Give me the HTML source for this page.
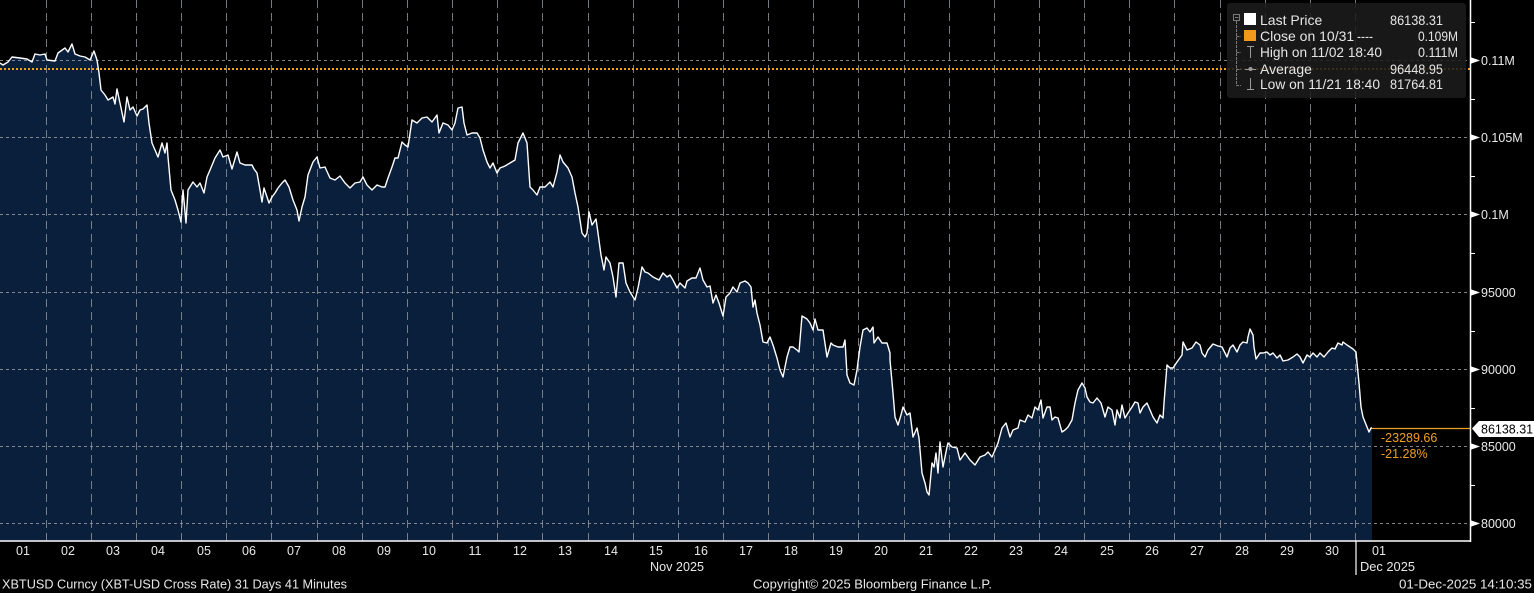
<!DOCTYPE html>
<html><head><meta charset="utf-8">
<style>
html,body{margin:0;padding:0;background:#000;}
svg{display:block;}
text{font-family:"Liberation Sans",Arial,sans-serif;}
</style></head>
<body>
<svg width="1534" height="593" viewBox="0 0 1534 593" xmlns="http://www.w3.org/2000/svg">
<rect x="0" y="0" width="1534" height="593" fill="#000"/>
<!-- area fill -->
<path fill="#0a1f3c" d="M0,541 L0,63 3,65 8,62 12,57 20,58 27,59 32,62 35,54 40,55 45,54 47,60 55,61 58,53 65,48 68,52 72,44 75,54 80,56 85,57 90,60 94,51 97,60 99,73 101,90 105,95 108,100 113,97 115,104 117,89 120,103 124,122 127,97 130,110 133,107 137,116 140,110 143,109 147,105 149,123 152,143 155,150 158,157 162,143 165,153 167,143 168,157 171,190 175,200 178,210 181,222 183,190 186,223 188,190 193,182 197,187 200,183 204,193 207,177 210,170 215,158 220,150 223,157 228,155 232,169 237,152 240,163 245,165 247,165 252,165 254,169 257,173 260,190 262,202 264,188 267,197 269,203 272,197 275,193 278,188 282,183 285,180 289,187 293,200 297,210 299,221 302,207 305,197 308,175 313,162 317,157 320,168 325,167 330,178 335,180 340,176 345,183 350,188 355,183 360,182 363,177 367,185 372,190 377,185 382,187 385,187 388,178 392,167 395,158 398,158 402,142 405,145 408,147 412,120 417,123 422,118 427,117 432,122 437,115 439,133 443,123 448,125 452,130 455,123 458,108 462,107 464,123 467,135 472,133 477,133 480,138 483,150 487,162 490,168 493,163 497,173 500,168 505,166 510,163 515,160 518,143 523,133 527,143 530,187 533,190 537,195 540,187 545,187 550,182 553,187 557,172 560,155 563,162 568,168 572,177 575,193 578,207 582,233 585,237 587,233 589,212 592,225 596,219 598,233 601,255 604,270 606,257 610,263 613,277 616,297 619,263 623,263 626,283 630,292 635,300 638,288 642,267 645,272 648,273 653,277 659,280 663,273 667,277 670,275 673,280 677,288 680,283 685,288 687,281 692,278 696,278 700,268 703,280 707,287 710,286 713,303 716,295 719,303 723,316 726,297 730,293 733,287 737,292 740,283 745,281 748,283 751,287 753,307 755,300 757,313 760,325 763,342 767,343 770,337 773,345 777,358 780,370 783,377 787,357 790,347 793,347 797,350 799,352 802,316 807,319 810,323 813,330 815,319 818,330 823,330 827,357 831,343 833,345 838,347 843,347 845,340 847,375 850,383 854,385 857,370 860,347 863,330 867,328 870,332 873,327 874,343 878,337 882,343 887,343 890,353 890,360 893,393 895,417 898,425 901,415 903,407 907,415 910,413 913,437 917,428 919,438 922,473 925,483 927,492 929,495 932,463 934,467 936,453 938,473 940,442 943,467 947,447 948,443 952,447 957,448 960,460 965,453 970,460 975,465 980,457 985,455 988,452 992,457 995,450 998,443 1002,428 1006,423 1010,437 1013,430 1018,428 1020,420 1025,422 1028,415 1032,418 1035,407 1038,410 1041,400 1043,418 1047,407 1050,407 1052,420 1055,417 1058,418 1062,432 1065,430 1068,427 1072,420 1075,403 1078,390 1082,383 1085,388 1087,397 1090,402 1093,403 1097,398 1101,403 1105,417 1108,407 1112,410 1115,425 1117,410 1120,418 1122,405 1125,418 1128,413 1132,407 1135,402 1138,403 1140,413 1143,407 1147,403 1150,410 1153,417 1157,423 1160,415 1163,418 1164,403 1167,365 1170,368 1173,368 1177,362 1182,355 1183,342 1187,350 1192,348 1196,342 1200,345 1202,353 1205,357 1208,350 1213,344 1218,346 1222,347 1227,357 1230,348 1233,345 1237,352 1240,345 1243,342 1247,343 1248,337 1250,329 1253,335 1254,347 1256,359 1260,353 1263,353 1267,352 1270,355 1273,353 1277,358 1280,355 1283,361 1288,360 1293,357 1297,354 1300,357 1303,363 1307,355 1310,357 1313,353 1317,357 1320,353 1324,357 1328,352 1332,348 1335,349 1338,343 1342,345 1343,342 1347,345 1350,347 1353,349 1356,352 1357,363 1359,383 1361,407 1363,417 1367,427 1369,432 1371,428 1372,428 L1372,541 Z"/>

<!-- vertical dashed gridlines -->
<path stroke="#8a8f98" stroke-width="1" stroke-dasharray="8,5" fill="none" opacity="0.85" d="M46.5,0V541 M91.5,0V541 M136.5,0V541 M181.5,0V541 M226.5,0V541 M271.5,0V541 M317.5,0V541 M362.5,0V541 M407.5,0V541 M452.5,0V541 M497.5,0V541 M542.5,0V541 M588.5,0V541 M633.5,0V541 M678.5,0V541 M723.5,0V541 M768.5,0V541 M813.5,0V541 M858.5,0V541 M904.5,0V541 M949.5,0V541 M994.5,0V541 M1039.5,0V541 M1084.5,0V541 M1129.5,0V541 M1174.5,0V541 M1220.5,0V541 M1265.5,0V541 M1310.5,0V541 M1355.5,0V541"/>

<!-- horizontal dotted gridlines -->
<path stroke="#9a9a9a" stroke-width="1" stroke-dasharray="3,3" fill="none" opacity="0.85" d="M0,60.5H1470 M0,137.5H1470 M0,214.5H1470 M0,292.5H1470 M0,369.5H1470 M0,446.5H1470 M0,523.5H1470"/>

<!-- close line (orange dotted) -->
<line x1="0" y1="69" x2="1470" y2="69" stroke="#f0a023" stroke-width="2" stroke-dasharray="2,2"/>

<!-- price line -->
<polyline fill="none" stroke="#ffffff" stroke-width="1.4" stroke-linejoin="round" points="0,63 3,65 8,62 12,57 20,58 27,59 32,62 35,54 40,55 45,54 47,60 55,61 58,53 65,48 68,52 72,44 75,54 80,56 85,57 90,60 94,51 97,60 99,73 101,90 105,95 108,100 113,97 115,104 117,89 120,103 124,122 127,97 130,110 133,107 137,116 140,110 143,109 147,105 149,123 152,143 155,150 158,157 162,143 165,153 167,143 168,157 171,190 175,200 178,210 181,222 183,190 186,223 188,190 193,182 197,187 200,183 204,193 207,177 210,170 215,158 220,150 223,157 228,155 232,169 237,152 240,163 245,165 247,165 252,165 254,169 257,173 260,190 262,202 264,188 267,197 269,203 272,197 275,193 278,188 282,183 285,180 289,187 293,200 297,210 299,221 302,207 305,197 308,175 313,162 317,157 320,168 325,167 330,178 335,180 340,176 345,183 350,188 355,183 360,182 363,177 367,185 372,190 377,185 382,187 385,187 388,178 392,167 395,158 398,158 402,142 405,145 408,147 412,120 417,123 422,118 427,117 432,122 437,115 439,133 443,123 448,125 452,130 455,123 458,108 462,107 464,123 467,135 472,133 477,133 480,138 483,150 487,162 490,168 493,163 497,173 500,168 505,166 510,163 515,160 518,143 523,133 527,143 530,187 533,190 537,195 540,187 545,187 550,182 553,187 557,172 560,155 563,162 568,168 572,177 575,193 578,207 582,233 585,237 587,233 589,212 592,225 596,219 598,233 601,255 604,270 606,257 610,263 613,277 616,297 619,263 623,263 626,283 630,292 635,300 638,288 642,267 645,272 648,273 653,277 659,280 663,273 667,277 670,275 673,280 677,288 680,283 685,288 687,281 692,278 696,278 700,268 703,280 707,287 710,286 713,303 716,295 719,303 723,316 726,297 730,293 733,287 737,292 740,283 745,281 748,283 751,287 753,307 755,300 757,313 760,325 763,342 767,343 770,337 773,345 777,358 780,370 783,377 787,357 790,347 793,347 797,350 799,352 802,316 807,319 810,323 813,330 815,319 818,330 823,330 827,357 831,343 833,345 838,347 843,347 845,340 847,375 850,383 854,385 857,370 860,347 863,330 867,328 870,332 873,327 874,343 878,337 882,343 887,343 890,353 890,360 893,393 895,417 898,425 901,415 903,407 907,415 910,413 913,437 917,428 919,438 922,473 925,483 927,492 929,495 932,463 934,467 936,453 938,473 940,442 943,467 947,447 948,443 952,447 957,448 960,460 965,453 970,460 975,465 980,457 985,455 988,452 992,457 995,450 998,443 1002,428 1006,423 1010,437 1013,430 1018,428 1020,420 1025,422 1028,415 1032,418 1035,407 1038,410 1041,400 1043,418 1047,407 1050,407 1052,420 1055,417 1058,418 1062,432 1065,430 1068,427 1072,420 1075,403 1078,390 1082,383 1085,388 1087,397 1090,402 1093,403 1097,398 1101,403 1105,417 1108,407 1112,410 1115,425 1117,410 1120,418 1122,405 1125,418 1128,413 1132,407 1135,402 1138,403 1140,413 1143,407 1147,403 1150,410 1153,417 1157,423 1160,415 1163,418 1164,403 1167,365 1170,368 1173,368 1177,362 1182,355 1183,342 1187,350 1192,348 1196,342 1200,345 1202,353 1205,357 1208,350 1213,344 1218,346 1222,347 1227,357 1230,348 1233,345 1237,352 1240,345 1243,342 1247,343 1248,337 1250,329 1253,335 1254,347 1256,359 1260,353 1263,353 1267,352 1270,355 1273,353 1277,358 1280,355 1283,361 1288,360 1293,357 1297,354 1300,357 1303,363 1307,355 1310,357 1313,353 1317,357 1320,353 1324,357 1328,352 1332,348 1335,349 1338,343 1342,345 1343,342 1347,345 1350,347 1353,349 1356,352 1357,363 1359,383 1361,407 1363,417 1367,427 1369,432 1371,428 1372,428"/>

<!-- last price orange line -->
<line x1="1372" y1="428.5" x2="1470" y2="428.5" stroke="#f0a023" stroke-width="1.2"/>

<!-- axes -->
<line x1="1470.5" y1="0" x2="1470.5" y2="542" stroke="#ffffff" stroke-width="1.5"/>
<line x1="0" y1="541" x2="1471" y2="541" stroke="#ffffff" stroke-width="1.5"/>
<line x1="1356" y1="541" x2="1356" y2="575" stroke="#ffffff" stroke-width="1.2"/>

<!-- minor ticks -->
<path stroke="#ffffff" stroke-width="1" d="M1470,22.5H1475 M1470,99.5H1475 M1470,176.5H1475 M1470,253.5H1475 M1470,331.5H1475 M1470,408.5H1475 M1470,485.5H1475"/>

<!-- y-axis arrows -->
<g fill="#ffffff">
<polygon points="1470,57 1480,60.5 1470,64"/>
<polygon points="1470,134 1480,137.5 1470,141"/>
<polygon points="1470,211 1480,214.5 1470,218"/>
<polygon points="1470,289 1480,292.5 1470,296"/>
<polygon points="1470,366 1480,369.5 1470,373"/>
<polygon points="1470,443 1480,446.5 1470,450"/>
<polygon points="1470,520 1480,523.5 1470,527"/>
</g>
<g fill="#e8e8e8" font-size="12.5">
<text x="1481" y="65">0.11M</text>
<text x="1481" y="142">0.105M</text>
<text x="1481" y="219">0.1M</text>
<text x="1481" y="297">95000</text>
<text x="1481" y="374">90000</text>
<text x="1481" y="451">85000</text>
<text x="1481" y="528">80000</text>
</g>

<!-- last price tag -->
<polygon points="1472,428.5 1479,421 1534,421 1534,437 1479,437" fill="#ffffff"/>
<text x="1481" y="433.5" font-size="12.5" fill="#000">86138.31</text>
<g fill="#f0a023" font-size="12.5">
<text x="1381" y="442">-23289.66</text>
<text x="1381" y="458">-21.28%</text>
</g>

<!-- x-axis labels -->
<g fill="#e8e8e8" font-size="12.5" text-anchor="middle">
<text x="23" y="555">01</text><text x="68" y="555">02</text><text x="113" y="555">03</text><text x="158" y="555">04</text><text x="204" y="555">05</text><text x="249" y="555">06</text><text x="294" y="555">07</text><text x="339" y="555">08</text><text x="384" y="555">09</text><text x="429" y="555">10</text><text x="475" y="555">11</text><text x="520" y="555">12</text><text x="565" y="555">13</text><text x="611" y="555">14</text><text x="656" y="555">15</text><text x="701" y="555">16</text><text x="746" y="555">17</text><text x="791" y="555">18</text><text x="836" y="555">19</text><text x="881" y="555">20</text><text x="926" y="555">21</text><text x="971" y="555">22</text><text x="1016" y="555">23</text><text x="1061" y="555">24</text><text x="1107" y="555">25</text><text x="1152" y="555">26</text><text x="1197" y="555">27</text><text x="1242" y="555">28</text><text x="1287" y="555">29</text><text x="1332" y="555">30</text><text x="1379" y="555">01</text>
</g>
<g fill="#e8e8e8" font-size="12.5">
<text x="650" y="571" textLength="54" lengthAdjust="spacingAndGlyphs">Nov 2025</text>
<text x="1360" y="571" textLength="55" lengthAdjust="spacingAndGlyphs">Dec 2025</text>
<text x="2" y="588.5" textLength="345" lengthAdjust="spacingAndGlyphs">XBTUSD Curncy (XBT-USD Cross Rate) 31 Days 41 Minutes</text>
<text x="753" y="588.5" textLength="239" lengthAdjust="spacingAndGlyphs">Copyright© 2025 Bloomberg Finance L.P.</text>
<text x="1399" y="588.5" textLength="133" lengthAdjust="spacingAndGlyphs">01-Dec-2025 14:10:35</text>
</g>

<!-- legend -->
<rect x="1227" y="3" width="239" height="95" rx="3" fill="#1b1b1b" fill-opacity="0.88"/>
<g stroke="#7a7a7a" stroke-width="1" fill="none">
<rect x="1233.5" y="14.5" width="6" height="6"/>
<line x1="1235" y1="17.5" x2="1238.5" y2="17.5"/>
<path d="M1236.5,21V85.5H1241 M1236.5,36.5H1241 M1236.5,52.5H1241 M1236.5,69.5H1241" stroke-dasharray="3,1"/>
<path d="M1247,46.5H1254 M1250.5,46.5V58" stroke="#9a9a9a"/>
<path d="M1245,69.5H1256" stroke="#9a9a9a"/>
<path d="M1250.5,78V89.5 M1247,89.5H1254" stroke="#9a9a9a"/>
</g>
<circle cx="1250.5" cy="69" r="2" fill="#9a9a9a"/>
<rect x="1244" y="13" width="12" height="12" fill="#ffffff"/>
<rect x="1244" y="30" width="12" height="11" fill="#f39a1c"/>
<g fill="#e6e6e6" font-size="14">
<text x="1260" y="25">Last Price</text>
<text x="1260" y="41">Close on 10/31</text>
<text x="1357" y="41" textLength="16" lengthAdjust="spacingAndGlyphs">----</text>
<text x="1260" y="57" textLength="122" lengthAdjust="spacingAndGlyphs">High on 11/02 18:40</text>
<text x="1260" y="74">Average</text>
<text x="1260" y="89" textLength="120" lengthAdjust="spacingAndGlyphs">Low on 11/21 18:40</text>
</g>
<g fill="#e6e6e6" font-size="14">
<text x="1390" y="25" textLength="53" lengthAdjust="spacingAndGlyphs">86138.31</text>
<text x="1418" y="41" textLength="40" lengthAdjust="spacingAndGlyphs">0.109M</text>
<text x="1418" y="57" textLength="40" lengthAdjust="spacingAndGlyphs">0.111M</text>
<text x="1390" y="74" textLength="53" lengthAdjust="spacingAndGlyphs">96448.95</text>
<text x="1390" y="89" textLength="53" lengthAdjust="spacingAndGlyphs">81764.81</text>
</g>
</svg>
</body></html>
